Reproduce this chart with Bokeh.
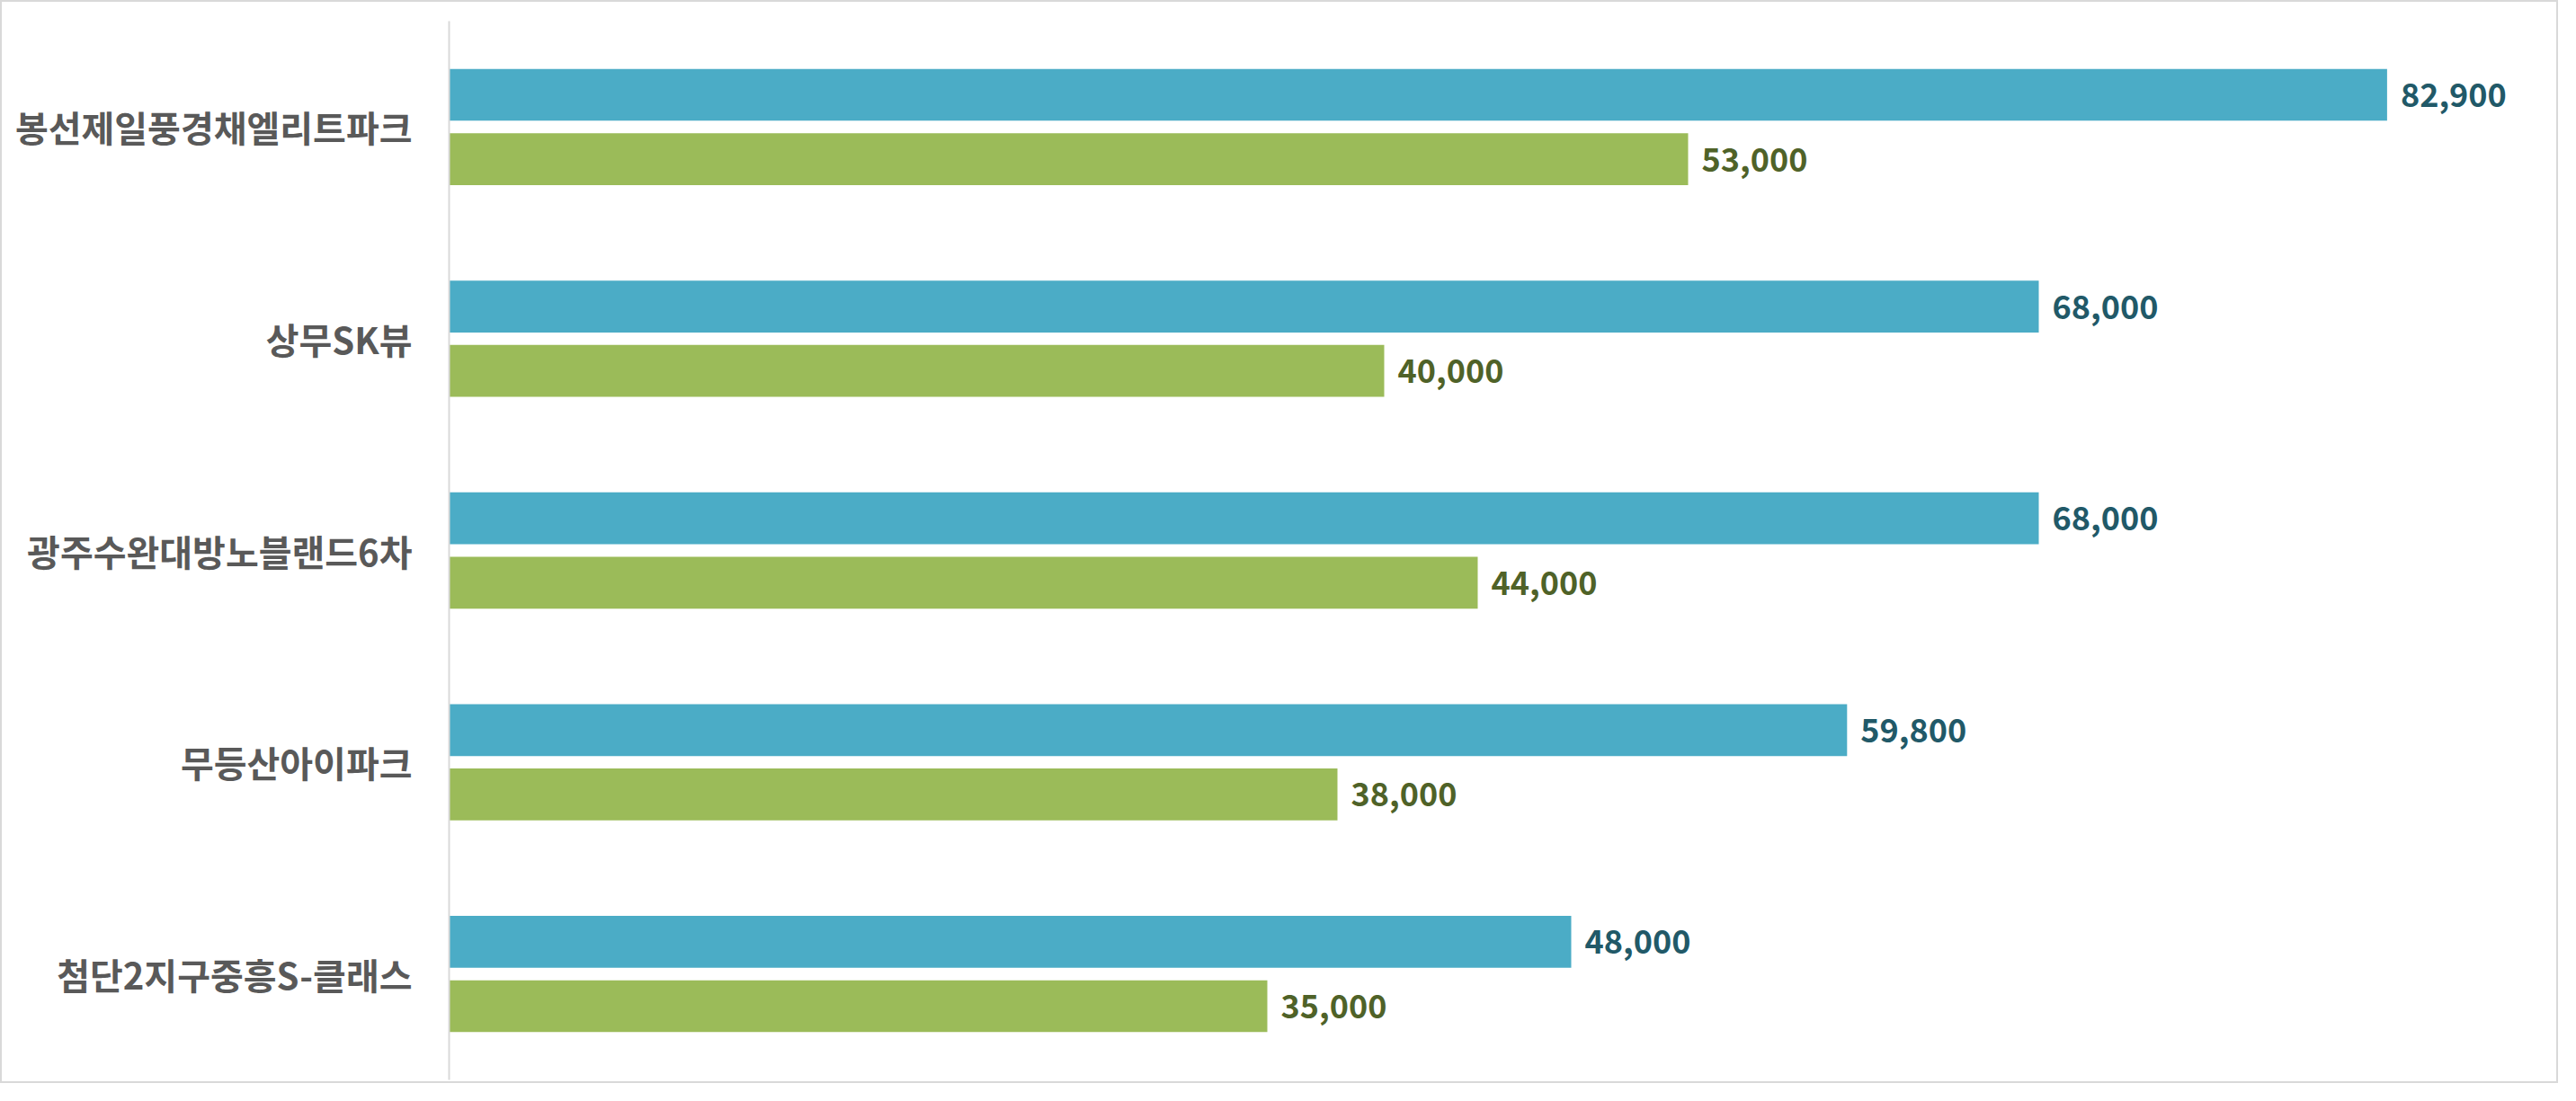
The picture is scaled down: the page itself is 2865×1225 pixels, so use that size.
from bokeh.plotting import figure
from bokeh.models import ColumnDataSource, FactorRange, Range1d
from bokeh.transform import dodge
from bokeh.core.properties import value
from bokeh.embed import file_html
from bokeh.resources import INLINE

categories = ["봉선제일풍경채엘리트파크", "상무SK뷰", "광주수완대방노블랜드6차", "무등산아이파크", "첨단2지구중흥S-클래스"]
series_a = [82900, 68000, 68000, 59800, 48000]
series_b = [53000, 40000, 44000, 38000, 35000]

color_a = "#4BACC6"
color_b = "#9BBB59"
label_a = "#215968"
label_b = "#4F6228"

src = ColumnDataSource(data=dict(
    cat=categories,
    a=series_a,
    b=series_b,
    a_txt=[f"{v:,}" for v in series_a],
    b_txt=[f"{v:,}" for v in series_b],
))

p = figure(
    width=2845, height=1205,
    y_range=FactorRange(*list(reversed(categories))),
    x_range=Range1d(0, 90000),
    output_backend="svg", toolbar_location=None,
    min_border_left=497, min_border_right=8, min_border_top=21, min_border_bottom=6,
    styles={"border": "2px solid #D9D9D9"},
)

bar_h = 0.245
off = 0.152
p.hbar(y=dodge("cat", off, range=p.y_range), left=0, right="a", height=bar_h,
       source=src, color=color_a, line_color=None)
p.hbar(y=dodge("cat", -off, range=p.y_range), left=0, right="b", height=bar_h,
       source=src, color=color_b, line_color=None)

font = value("Noto Sans CJK KR")
p.text(x="a", y=dodge("cat", off, range=p.y_range), text="a_txt", source=src,
       x_offset=15, text_baseline="middle", text_align="left",
       text_font=font, text_font_style="bold", text_font_size="36px", text_color=label_a)
p.text(x="b", y=dodge("cat", -off, range=p.y_range), text="b_txt", source=src,
       x_offset=15, text_baseline="middle", text_align="left",
       text_font=font, text_font_style="bold", text_font_size="36px", text_color=label_b)

p.xaxis.visible = False
p.xgrid.visible = False
p.ygrid.visible = False
p.outline_line_color = None

ax = p.yaxis[0]
ax.axis_line_color = "#D9D9D9"
ax.axis_line_width = 2
ax.major_tick_line_color = None
ax.minor_tick_line_color = None
ax.major_label_standoff = 35
ax.major_label_text_font = "Noto Sans CJK KR"
ax.major_label_text_font_style = "bold"
ax.major_label_text_font_size = "40px"
ax.major_label_text_color = "#595959"

open("out.html", "w").write(file_html(p, INLINE))
